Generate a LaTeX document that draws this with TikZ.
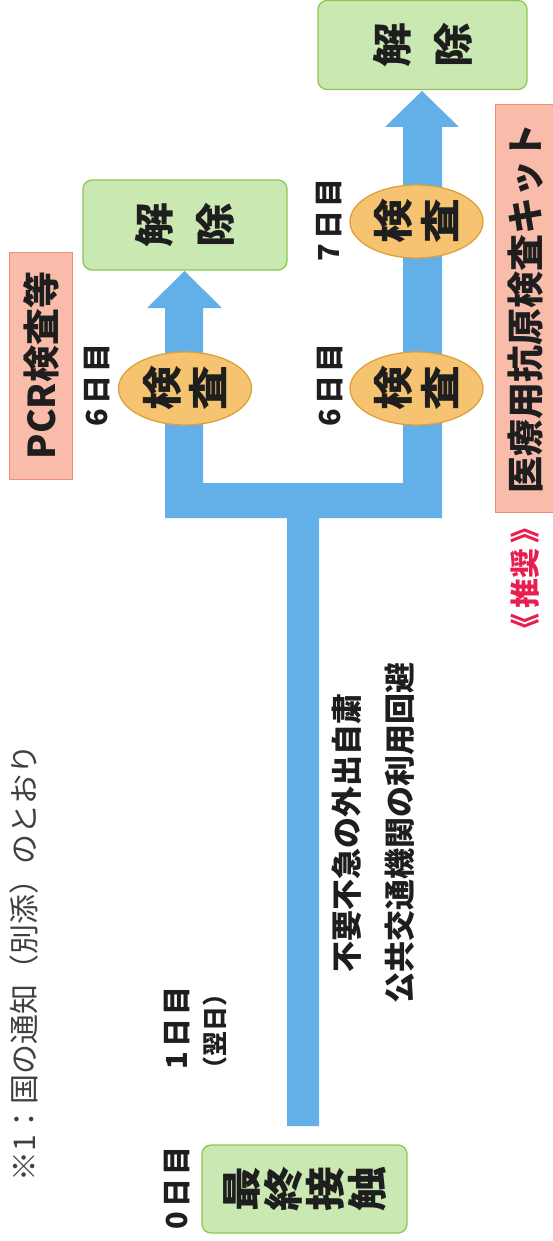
\documentclass[tikz,border=0pt]{standalone}
\usepackage{fontspec}
\newfontfamily\jp{Noto Sans CJK JP}
\newfontfamily\jpw[FakeStretch=1.12]{Noto Sans CJK JP}
\usetikzlibrary{shapes.geometric}
\definecolor{flowblue}{RGB}{99,176,232}
\definecolor{boxgreen}{RGB}{140,200,80}
\definecolor{fillgreen}{RGB}{202,232,178}
\definecolor{ovalfill}{RGB}{246,196,112}
\definecolor{ovaldraw}{RGB}{222,160,60}
\definecolor{pinkfill}{RGB}{249,188,170}
\definecolor{pinkdraw}{RGB}{240,140,112}
\definecolor{redtxt}{RGB}{232,30,80}
\definecolor{txt}{RGB}{30,30,30}
\tikzset{
  greenbox/.style={draw=boxgreen, fill=fillgreen, rounded corners=9pt, line width=1.3pt,
    rotate=90, inner sep=0pt, align=center, text=txt},
  ovalbox/.style={ellipse, draw=ovaldraw, fill=ovalfill, line width=1.3pt, rotate=90,
    inner sep=0pt, align=center, text=txt, minimum width=73pt, minimum height=133pt,
    font=\jpw\bfseries\fontsize{40}{46.5}\selectfont},
  pinkbox/.style={draw=pinkdraw, fill=pinkfill, line width=0.8pt, rotate=90, inner sep=0pt,
    text=txt, font=\jp\bfseries\fontsize{37}{40}\selectfont},
  daylabel/.style={rotate=90, inner sep=0pt, text=txt, font=\jp\bfseries\fontsize{29}{34}\selectfont},
  remark/.style={rotate=90, inner sep=0pt, text=txt, align=center,
    font=\jp\bfseries\fontsize{31}{53}\selectfont}
}
\begin{document}
\begin{tikzpicture}[x=1pt,y=-1pt]
\useasboundingbox (0,0) rectangle (552,1241);
% blue flow shape
\fill[flowblue] (287,1126) -- (319,1126) -- (319,518) -- (442,518) -- (442,127)
  -- (459,127) -- (422,91) -- (385,127) -- (403,127) -- (403,483) -- (203,483)
  -- (203,308) -- (222,308) -- (184.5,271) -- (147,308) -- (165,308) -- (165,518)
  -- (287,518) -- cycle;
% boxes
\node[greenbox, minimum width=88pt, minimum height=205pt,
  font=\jpw\bfseries\fontsize{40}{42}\selectfont] (start) at (304.5,1189) {最\\終\\接\\触};
\node[greenbox, minimum width=90pt, minimum height=204pt,
  font=\jpw\bfseries\fontsize{40}{61}\selectfont] (endL) at (185,225) {解\\除};
\node[greenbox, minimum width=89pt, minimum height=209pt,
  font=\jpw\bfseries\fontsize{40}{61}\selectfont] (endR) at (422.5,45) {解\\除};
% test ovals
\node[ovalbox] (testL) at (185,388.5) {検\\査};
\node[ovalbox] (testR1) at (416.5,388.5) {検\\査};
\node[ovalbox] (testR2) at (416.5,221.5) {検\\査};
% pink boxes
\node[pinkbox, minimum width=227pt, minimum height=63pt] (pcr) at (41,365.5) {PCR検査等};
\node[pinkbox, minimum width=408pt, minimum height=62pt] (kit) at (526,308) {医療用抗原検査キット};
\node[rotate=90, inner sep=0pt, text=redtxt, font=\jp\bfseries\fontsize{30}{34}\selectfont]
  (rec) at (525,578) {《\hspace{5pt}推奨\hspace{5pt}》};
% day labels
\node[daylabel] (d0) at (177,1188) {0\hspace{4pt}日\hspace{3pt}目};
\node[daylabel] (d1) at (177,1028) {1\hspace{4pt}日\hspace{3pt}目};
\node[rotate=90, inner sep=0pt, text=txt, font=\jp\bfseries\fontsize{25}{28}\selectfont]
  (d1b) at (215,1031) {（翌日）};
\node[daylabel] (d6L) at (97,385) {6\hspace{4pt}日\hspace{3pt}目};
\node[daylabel] (d6R) at (330,385) {6\hspace{4pt}日\hspace{3pt}目};
\node[daylabel] (d7R) at (329,220) {7\hspace{4pt}日\hspace{3pt}目};
% remarks
\node[remark] (note) at (373.5,832.5) {不要不急の外出自粛\\公共交通機関の利用回避};
\node[rotate=90, inner sep=0pt, text=txt!85, font=\jp\fontsize{30}{34}\selectfont]
  (foot) at (24,963) {※1：国の通知（別添）のとおり};
\end{tikzpicture}
\end{document}
